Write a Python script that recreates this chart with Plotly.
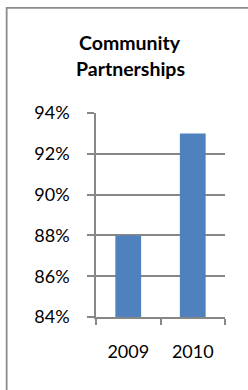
import plotly.graph_objects as go

categories = ["2009", "2010"]
values = [0.88, 0.93]
y_ticks = [0.84, 0.86, 0.88, 0.90, 0.92, 0.94]
title_lines = ["Community", "Partnerships"]

W, H = 248, 390
L, R, T, B = 95.5, 22.7, 112.7, 73.3
pw = W - L - R
ph = H - T - B

grey = "#878787"
font_family = "Lato, 'Open Sans', sans-serif"

fig = go.Figure()
fig.add_trace(go.Bar(
    x=categories, y=values,
    marker=dict(color="#4F81BD", line=dict(width=0)),
    width=0.4,
))

# outer chart border (left & top visible, right & bottom off-canvas)
x_left = (5.6 - L) / pw
x_right = (W + 10 - L) / pw
y_top = 1 + (T - 7.5) / ph
y_bottom = -(B + 10) / ph
fig.add_shape(type="rect", xref="paper", yref="paper",
              x0=x_left, x1=x_right, y0=y_bottom, y1=y_top,
              line=dict(color="#8c8c8c", width=1.8), layer="below")

# two-line bold title
title_y_px = [42, 68]
for line, ypx in zip(title_lines, title_y_px):
    fig.add_annotation(text="<b>" + line + "</b>", xref="paper", yref="paper",
                       x=(130 - L) / pw, y=1 + (T - ypx) / ph,
                       xanchor="center", yanchor="middle", showarrow=False,
                       font=dict(family=font_family, size=19.5, color="#000000"))

fig.update_layout(
    width=W, height=H,
    margin=dict(l=L, r=R, t=T, b=B, autoexpand=False),
    paper_bgcolor="white", plot_bgcolor="white",
    showlegend=False,
    font=dict(family=font_family, size=18, color="#000000"),
    bargap=0.6,
)
fig.update_xaxes(
    type="category", showline=True, linecolor=grey, linewidth=1.5,
    ticks="outside", tickson="boundaries", ticklen=6, tickcolor=grey, tickwidth=1.5,
    showgrid=False, ticklabelstandoff=18,
)
fig.update_yaxes(
    range=[0.84, 0.94], tickvals=y_ticks, tickformat=".0%",
    showline=True, linecolor=grey, linewidth=1.5,
    ticks="outside", ticklen=7, tickcolor=grey, tickwidth=1.5,
    showgrid=True, gridcolor=grey, gridwidth=1.5, zeroline=False,
    ticklabelstandoff=14,
)

fig.write_html("out.html", config={"displayModeBar": False},
               post_script="document.body.style.margin='0';document.body.style.overflow='hidden';")
